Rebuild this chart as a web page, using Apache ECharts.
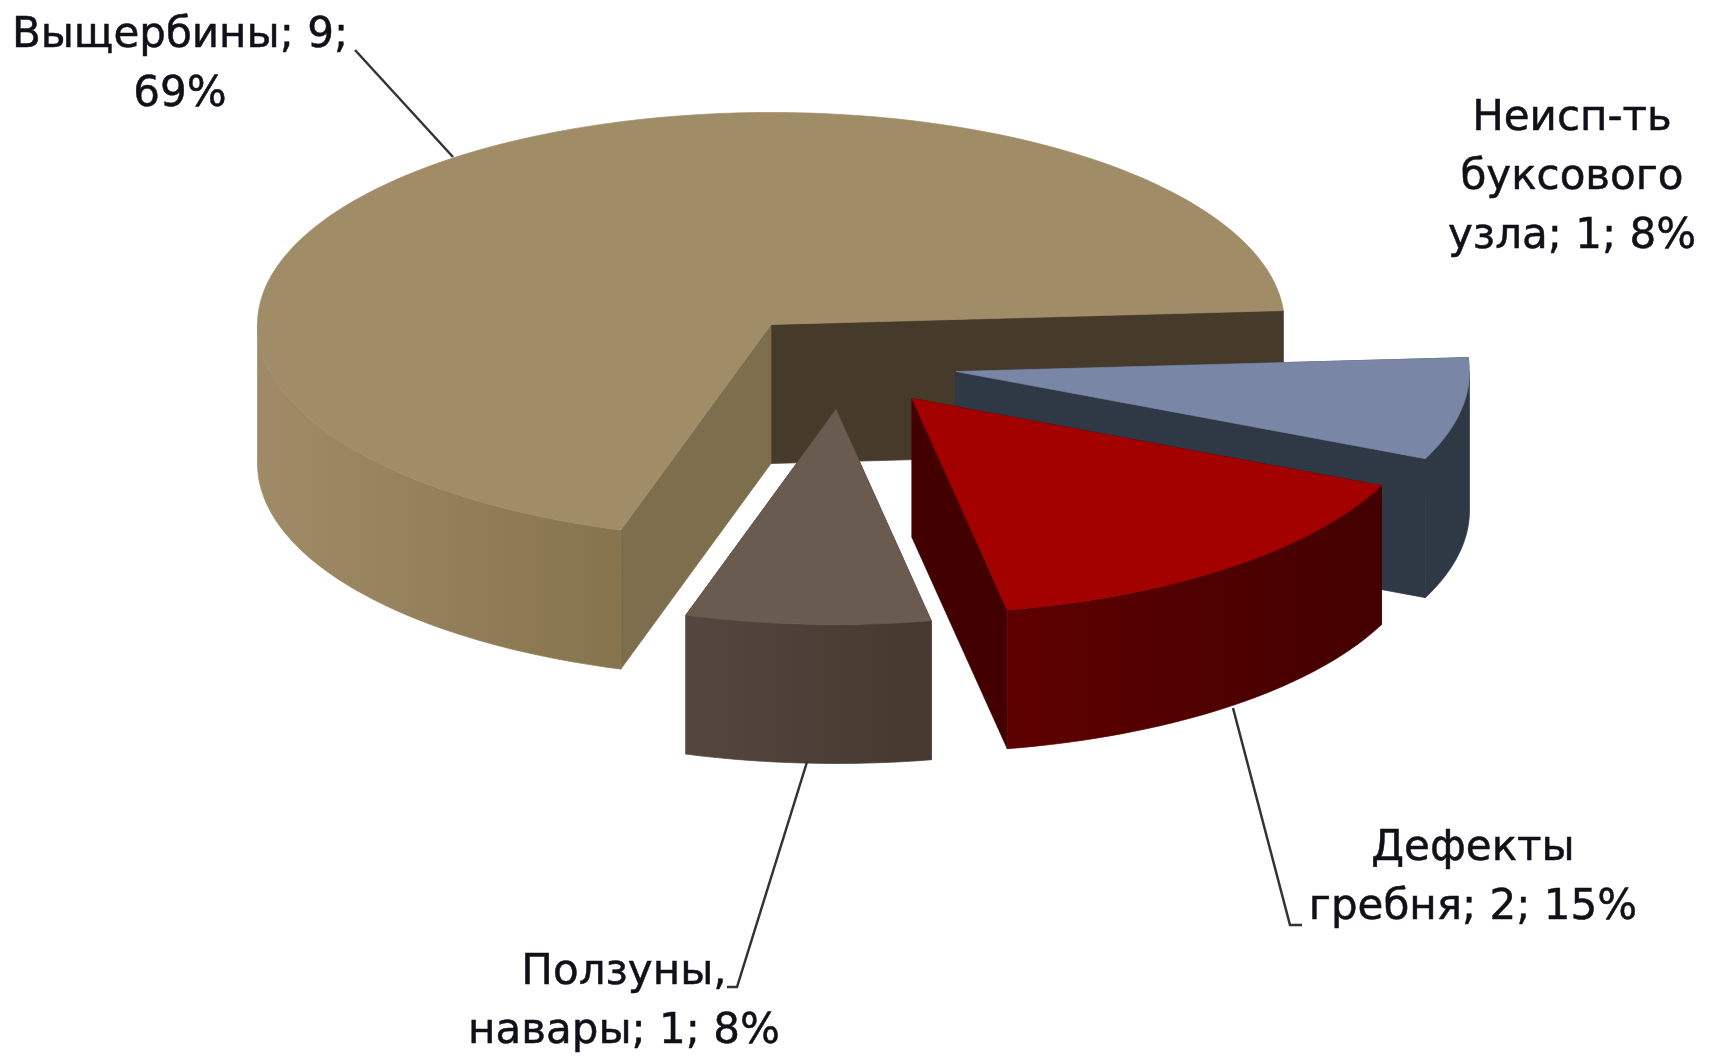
<!DOCTYPE html>
<html lang="ru">
<head>
  <meta charset="UTF-8">
  <title>Дефекты</title>
  <script src="https://cdn.jsdelivr.net/npm/echarts@6/dist/echarts.min.js"></script>
  <style>
    html,body{margin:0;padding:0;background:#fff;}
    #main{width:1713px;height:1058px;}
  </style>
</head>
<body>
  <div id="main"></div>
  <script>
    // данные
    var names = ['Выщербины', 'Неисп-ть буксового узла', 'Дефекты гребня', 'Ползуны, навары'];
    var values = [9, 1, 2, 1];

    // вид: псевдо-3D, эллипс и толщина
    var cx = 771, cy = 324.5, rx = 513.5, ryBack = 212, ryFront = 215, depth = 139;
    var startDeg = 107;
    var explode = [[0, 0], [185, 47], [141, 74], [65, 85]];

    var topColor = ['#a18c68', '#7a86a5', '#a30000', '#6a5b50'];
    var sideFrom = ['#a08b66', '#2f3845', '#5e0000', '#55473f'];
    var sideTo = ['#86744f', '#2f3845', '#430000', '#44382f'];
    var wallStart = ['#7d6f4e', '#2f3845', '#430000', '#44382f'];
    var wallEnd = ['#463a2b', '#2f3845', '#430000', '#44382f'];

    // подписи
    var labelLines = [
      ['Выщербины; 9;', '69%'],
      ['Неисп-ть', 'буксового', 'узла; 1; 8%'],
      ['Дефекты', 'гребня; 2; 15%'],
      ['Ползуны,', 'навары; 1; 8%']
    ];
    var labelPos = [[180, 66], [1572, 178], [1473, 879], [624, 1003]];
    var leaders = [
      [[355, 50], [453, 157]],
      null,
      [[1233, 708], [1290, 925], [1302, 925]],
      [[807, 762], [737, 987], [727, 987]]
    ];

    var total = values.reduce(function(a, b){ return a + b; }, 0);

    function pt(ox, oy, rad){
      var sin = Math.sin(rad);
      return [ox + rx * Math.cos(rad), oy + (sin > 0 ? ryFront : ryBack) * sin];
    }

    function arc(ox, oy, s, e, dy){
      var pts = [];
      var n = Math.max(2, Math.ceil((e - s) / 1.5));
      for(var i = 0; i <= n; i++){
        var p = pt(ox, oy, (s + (e - s) * i / n) * Math.PI / 180);
        pts.push([p[0], p[1] + dy]);
      }
      return pts;
    }

    function wall(ox, oy, deg){
      var p = pt(ox, oy, deg * Math.PI / 180);
      return [[ox, oy], p, [p[0], p[1] + depth], [ox, oy + depth]];
    }

    function renderItem(params, api){
      var i = params.dataIndex;
      var before = 0;
      for(var k = 0; k < i; k++) before += values[k];
      var s = startDeg + before / total * 360;
      var e = s + api.value(0) / total * 360;
      var ox = cx + explode[i][0], oy = cy + explode[i][1];
      var children = [];

      function poly(points, fill){
        children.push({
          type: 'polygon',
          shape: {points: points},
          style: {fill: fill, stroke: fill, lineWidth: 0.7},
          silent: true
        });
      }

      poly(wall(ox, oy, e), wallEnd[i]);
      poly(wall(ox, oy, s), wallStart[i]);

      // наружная стенка, только передняя половина
      var lo = s, hi = e;
      if(lo < 360 && hi > 360) lo = 360;
      if(lo >= 360){ lo -= 360; hi -= 360; }
      hi = Math.min(hi, 180);
      if(hi > lo){
        var side = arc(ox, oy, lo, hi, 0).concat(arc(ox, oy, lo, hi, depth).reverse());
        poly(side, new echarts.graphic.LinearGradient(0, 0, 1, 0, [
          {offset: 0, color: sideFrom[i]},
          {offset: 1, color: sideTo[i]}
        ]));
      }

      poly([[ox, oy]].concat(arc(ox, oy, s, e, 0)), topColor[i]);

      if(leaders[i]){
        children.push({
          type: 'polyline',
          shape: {points: leaders[i]},
          style: {stroke: '#333', lineWidth: 2.5, fill: null},
          silent: true
        });
      }
      children.push({
        type: 'text',
        x: labelPos[i][0],
        y: labelPos[i][1],
        style: {
          text: labelLines[i].join('\n'),
          fill: '#101018',
          stroke: '#101018',
          lineWidth: 0.5,
          font: '42px "DejaVu Sans"',
          lineHeight: 59,
          align: 'center',
          verticalAlign: 'middle'
        },
        silent: true
      });
      return {type: 'group', children: children};
    }

    var myChart = echarts.init(document.getElementById('main'));
    myChart.setOption({
      animation: false,
      backgroundColor: '#fff',
      series: [{
        type: 'custom',
        coordinateSystem: 'none',
        renderItem: renderItem,
        data: values.map(function(v, i){ return {name: names[i], value: [v]}; })
      }]
    });
  </script>
</body>
</html>
